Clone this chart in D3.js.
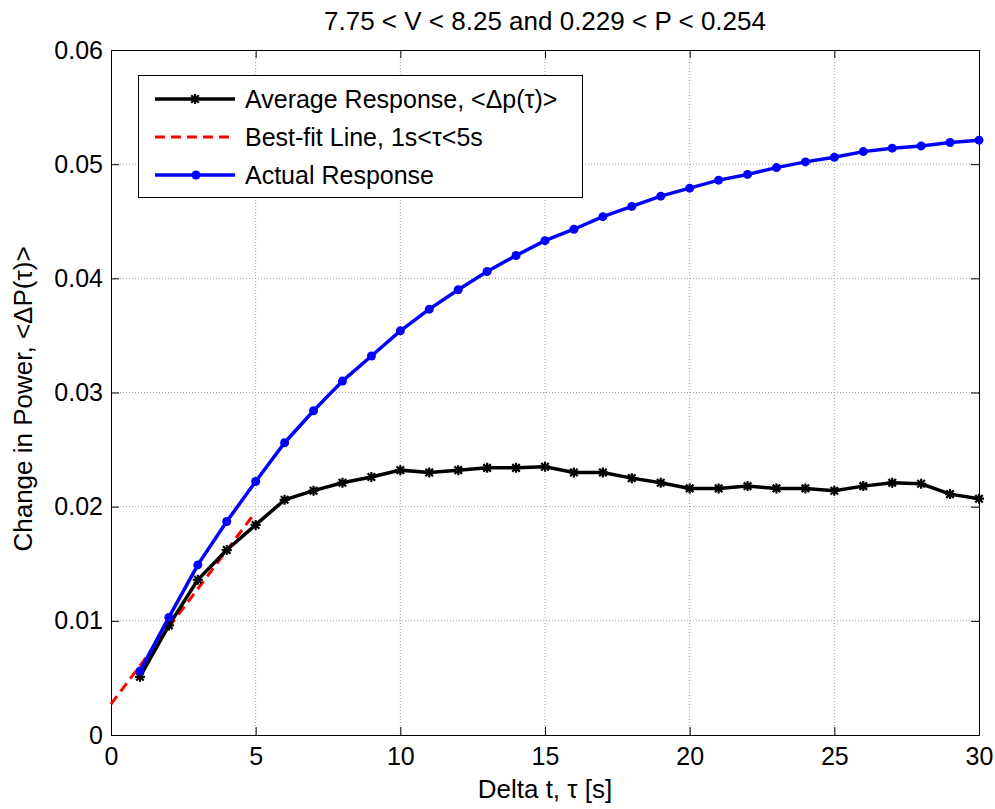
<!DOCTYPE html>
<html>
<head>
<meta charset="utf-8">
<script src="https://cdn.jsdelivr.net/npm/d3@7"></script>
<style>
  body { margin: 0; background: #fff; }
  text { font-family: "Liberation Sans", Arial, sans-serif; }
</style>
</head>
<body>
<div id="chart"></div>
<script>
// data
const tau = d3.range(1, 31);
const avgResponse = [0.0051, 0.0096, 0.0136, 0.0162, 0.0184, 0.0206, 0.0214, 0.0221, 0.0226, 0.0232,
  0.0230, 0.0232, 0.0234, 0.0234, 0.0235, 0.0230, 0.0230, 0.0225, 0.0221, 0.0216,
  0.0216, 0.0218, 0.0216, 0.0216, 0.0214, 0.0218, 0.0221, 0.0220, 0.0211, 0.0207];
const actualResponse = [0.0056, 0.0103, 0.0149, 0.0187, 0.0222, 0.0256, 0.0284, 0.0310, 0.0332, 0.0354,
  0.0373, 0.0390, 0.0406, 0.0420, 0.0433, 0.0443, 0.0454, 0.0463, 0.0472, 0.0479,
  0.0486, 0.0491, 0.0497, 0.0502, 0.0506, 0.0511, 0.0514, 0.0516, 0.0519, 0.0521];
const fitX = [0, 4.9];
const fitY = [0.0027, 0.0192];
const xTicks = [0, 5, 10, 15, 20, 25, 30];
const yTicks = [0, 0.01, 0.02, 0.03, 0.04, 0.05, 0.06];
const legendLabels = ["Average Response, <\u0394p(\u03c4)>", "Best-fit Line, 1s<\u03c4<5s", "Actual Response"];

const width = 995, height = 809;
const margin = { top: 50, right: 16, bottom: 74, left: 111 };

const svg = d3.select("#chart").append("svg")
  .attr("width", width)
  .attr("height", height);

const x = d3.scaleLinear().domain([0, 30]).range([margin.left, width - margin.right]);
const y = d3.scaleLinear().domain([0, 0.06]).range([height - margin.bottom, margin.top]);

// grid
const grid = svg.append("g").attr("stroke", "#a0a0a0").attr("stroke-width", 1).attr("stroke-dasharray", "1,2");
grid.selectAll(".gx").data(xTicks.slice(1, -1)).join("line")
  .attr("x1", d => x(d)).attr("x2", d => x(d))
  .attr("y1", y(0)).attr("y2", y(0.06));
grid.selectAll(".gy").data(yTicks.slice(1, -1)).join("line")
  .attr("x1", x(0)).attr("x2", x(30))
  .attr("y1", d => y(d)).attr("y2", d => y(d));

// axes (ticks point inward, box on all sides)
const fmtY = d => d === 0 ? "0" : d3.format(".2f")(d);
svg.append("g")
  .attr("transform", `translate(0,${y(0)})`)
  .call(d3.axisBottom(x).tickValues(xTicks).tickSizeInner(-8).tickSizeOuter(0).tickPadding(12))
  .call(g => g.selectAll("text").style("font-size", "25px").attr("fill", "#000"));
svg.append("g")
  .attr("transform", `translate(0,${y(0.06)})`)
  .call(d3.axisTop(x).tickValues(xTicks).tickSizeInner(-8).tickSizeOuter(0).tickFormat(""));
svg.append("g")
  .attr("transform", `translate(${x(0)},0)`)
  .call(d3.axisLeft(y).tickValues(yTicks).tickFormat(fmtY).tickSizeInner(-8).tickSizeOuter(0).tickPadding(8))
  .call(g => g.selectAll("text").style("font-size", "25px").attr("fill", "#000"));
svg.append("g")
  .attr("transform", `translate(${x(30)},0)`)
  .call(d3.axisRight(y).tickValues(yTicks).tickSizeInner(-8).tickSizeOuter(0).tickFormat(""));
svg.selectAll(".domain").attr("stroke", "#000");
svg.selectAll(".tick line").attr("stroke", "#000");

// best-fit line
svg.append("path")
  .datum(fitX.map((d, i) => [d, fitY[i]]))
  .attr("fill", "none")
  .attr("stroke", "#ff0000")
  .attr("stroke-width", 3)
  .attr("stroke-dasharray", "10,6")
  .attr("d", d3.line().x(d => x(d[0])).y(d => y(d[1])));

// average response
const line = d3.line().x(d => x(d[0])).y(d => y(d[1]));
const avgPts = tau.map((t, i) => [t, avgResponse[i]]);
svg.append("path")
  .datum(avgPts)
  .attr("fill", "none")
  .attr("stroke", "#000")
  .attr("stroke-width", 3.5)
  .attr("d", line);

function star(g, cx, cy, r) {
  const p = `M${cx - r},${cy}L${cx + r},${cy}M${cx},${cy - r}L${cx},${cy + r}` +
    `M${cx - r * 0.75},${cy - r * 0.75}L${cx + r * 0.75},${cy + r * 0.75}` +
    `M${cx - r * 0.75},${cy + r * 0.75}L${cx + r * 0.75},${cy - r * 0.75}`;
  g.append("path").attr("d", p).attr("stroke", "#000").attr("stroke-width", 2.2).attr("fill", "none");
}
const starG = svg.append("g");
avgPts.forEach(d => star(starG, x(d[0]), y(d[1]), 5));

// actual response
const actPts = tau.map((t, i) => [t, actualResponse[i]]);
svg.append("path")
  .datum(actPts)
  .attr("fill", "none")
  .attr("stroke", "#0000ff")
  .attr("stroke-width", 3.5)
  .attr("d", line);
svg.append("g").selectAll("circle").data(actPts).join("circle")
  .attr("cx", d => x(d[0]))
  .attr("cy", d => y(d[1]))
  .attr("r", 4.5)
  .attr("fill", "#0000ff");

// legend
const lg = svg.append("g");
lg.append("rect")
  .attr("x", 138.5).attr("y", 75.5)
  .attr("width", 444).attr("height", 122)
  .attr("fill", "#fff").attr("stroke", "#000").attr("stroke-width", 1);
const rows = [99, 137, 175];
lg.append("line").attr("x1", 155).attr("x2", 235).attr("y1", rows[0]).attr("y2", rows[0])
  .attr("stroke", "#000").attr("stroke-width", 3.5);
star(lg, 195, rows[0], 5);
lg.append("line").attr("x1", 155).attr("x2", 235).attr("y1", rows[1]).attr("y2", rows[1])
  .attr("stroke", "#ff0000").attr("stroke-width", 3).attr("stroke-dasharray", "10,6");
lg.append("line").attr("x1", 155).attr("x2", 235).attr("y1", rows[2]).attr("y2", rows[2])
  .attr("stroke", "#0000ff").attr("stroke-width", 3.5);
lg.append("circle").attr("cx", 196).attr("cy", rows[2]).attr("r", 4.5).attr("fill", "#0000ff");
lg.selectAll(".lt").data(legendLabels).join("text")
  .attr("x", 245)
  .attr("y", (d, i) => rows[i])
  .attr("dy", "0.35em")
  .style("font-size", "25px")
  .text(d => d);

// title and axis labels
svg.append("text")
  .attr("x", (x(0) + x(30)) / 2)
  .attr("y", 30)
  .attr("text-anchor", "middle")
  .style("font-size", "26px")
  .text("7.75 < V < 8.25 and 0.229 < P < 0.254");
svg.append("text")
  .attr("x", (x(0) + x(30)) / 2)
  .attr("y", 798)
  .attr("text-anchor", "middle")
  .style("font-size", "26px")
  .text("Delta t, \u03c4 [s]");
svg.append("text")
  .attr("transform", "rotate(-90)")
  .attr("x", -399)
  .attr("y", 32)
  .attr("text-anchor", "middle")
  .style("font-size", "26px")
  .text("Change in Power, <\u0394P(\u03c4)>");
</script>
</body>
</html>
